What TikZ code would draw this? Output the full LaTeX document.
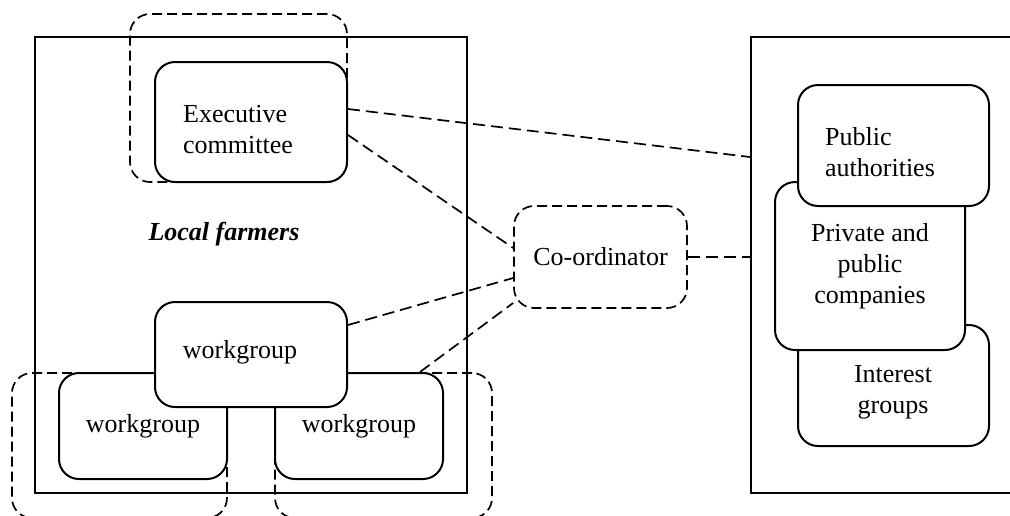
\documentclass[tikz,border=0pt]{standalone}
\usepackage{fontspec}
\setmainfont{Liberation Serif}

\begin{document}
\begin{tikzpicture}[x=1pt, y=-1pt,
		area/.style={draw, line width=2pt, inner sep=0pt},
		box/.style={draw, fill=white, line width=2pt, rounded corners=20pt, inner sep=0pt, align=center},
		group/.style={draw, dash pattern=on 10pt off 5pt, line width=1.7pt, rounded corners=20pt, inner sep=0pt, align=center},
		link/.style={dash pattern=on 12pt off 6pt, line width=1.7pt},
		lbl/.style={inner sep=0pt}]
	\clip (0,0) rectangle (1010,515);
	\tikzset{every node/.append style={font=\fontsize{26}{31}\selectfont}}
	% the two areas
	\node (farmers) [area, minimum width=432, minimum height=456] at (251,265) {};
	\node (partners) [area, minimum width=264, minimum height=456] at (883,265) {};
	\node (farmerslbl) [lbl, font=\fontsize{26}{31}\selectfont\bfseries\itshape] at (224,234) {Local farmers};
	% executive committee
	\node (execgroup) [group, minimum width=217, minimum height=168] at (238.5,98) {};
	\node (exec) [box, minimum width=192, minimum height=120] at (251,122) {};
	\node (execlbl) [lbl, align=left] at (238,130) {Executive\\committee};
	% workgroups
	\node (wgleft) [box, minimum width=168, minimum height=106] at (143,426) {workgroup};
	\node (wgright) [box, minimum width=168, minimum height=106] at (359,426) {workgroup};
	\node (leftgroup) [group, minimum width=215, minimum height=145] at (119.5,445.5) {};
	\node (rightgroup) [group, minimum width=217, minimum height=145] at (383.5,445.5) {};
	\node (wgtop) [box, minimum width=192, minimum height=105] at (251,354.5) {};
	\node (wgtoplbl) [lbl] at (240,352) {workgroup};
	% co-ordinator
	\node (coord) [group, minimum width=173, minimum height=102] at (600.5,257) {Co-ordinator};
	% partners
	\node (interest) [box, minimum width=191, minimum height=121] at (893.5,385.5) {};
	\node (interestlbl) [lbl, align=center] at (893,392) {Interest\\groups};
	\node (companies) [box, minimum width=190, minimum height=168] at (870,266) {Private and\\public\\companies};
	\node (authorities) [box, minimum width=191, minimum height=121] at (893.5,145.5) {};
	\node (authoritieslbl) [lbl, align=left] at (880,152) {Public\\authorities};
	% links
	\draw [link] ([yshift=13pt]exec.east) -- ([yshift=108pt]partners.west);
	\draw [link] ([yshift=-13pt]exec.east) -- ([yshift=9pt]coord.west);
	\draw [link] ([yshift=29.5pt]wgtop.east) -- ([yshift=-21pt]coord.west);
	\draw [link] ([xshift=61pt]wgright.north) -- ([yshift=-46pt]coord.west);
	\draw [link] (coord.east) -- (coord.east -| partners.west);
\end{tikzpicture}
\end{document}
